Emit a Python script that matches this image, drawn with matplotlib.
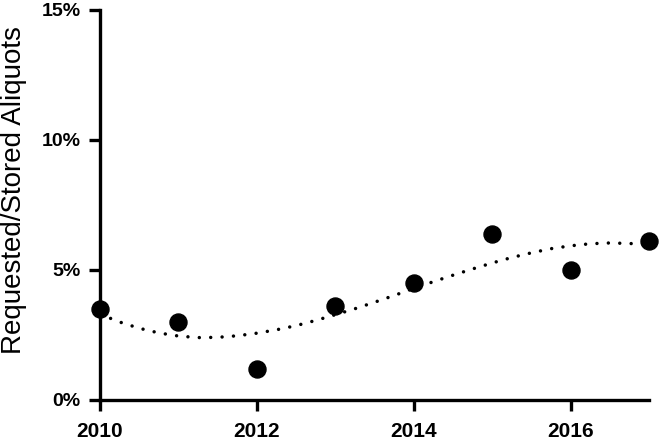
import matplotlib
matplotlib.use("Agg")
import matplotlib.pyplot as plt
from matplotlib.ticker import FuncFormatter

plt.rcParams['font.family'] = ['Liberation Sans', 'DejaVu Sans']
plt.rcParams['lines.scale_dashes'] = False

# measured points (percent)
years = [2010, 2011, 2012, 2013, 2014, 2015, 2016, 2017]
ratio = [3.5, 3.0, 1.2, 3.6, 4.5, 6.4, 5.0, 6.1]

# dotted trend line, every quarter year
trend_years = [2010.0, 2010.25, 2010.5, 2010.75, 2011.0, 2011.25, 2011.5, 2011.75,
               2012.0, 2012.25, 2012.5, 2012.75, 2013.0, 2013.25, 2013.5, 2013.75,
               2014.0, 2014.25, 2014.5, 2014.75, 2015.0, 2015.25, 2015.5, 2015.75,
               2016.0, 2016.25, 2016.5, 2016.75, 2017.0]
trend_vals = [3.30, 3.00, 2.76, 2.58, 2.46, 2.40, 2.41, 2.47,
              2.57, 2.70, 2.86, 3.06, 3.28, 3.51, 3.76, 4.02,
              4.29, 4.55, 4.80, 5.04, 5.27, 5.48, 5.66, 5.82,
              5.93, 6.01, 6.04, 6.02, 5.98]

xticks = [2010, 2012, 2014, 2016]
yticks = [0, 5, 10, 15]

W, H = 660, 443
fig = plt.figure(figsize=(W / 100, H / 100), dpi=100)
ax = fig.add_axes([100 / W, (H - 400) / H, 549 / W, 390 / H])

ax.plot(trend_years, trend_vals, color='black', lw=2.5,
        linestyle=(0, (0.01, 8.2)), dash_capstyle='round', zorder=2)
ax.scatter(years, ratio, s=150, color='black', zorder=3, clip_on=False)

ax.set_xlim(2010, 2017)
ax.set_ylim(0, 15)
ax.set_xticks(xticks)
ax.set_yticks(yticks)
ax.yaxis.set_major_formatter(FuncFormatter(lambda v, p: '%d%%' % v))

for s in ['top', 'right']:
    ax.spines[s].set_visible(False)
for s in ['left', 'bottom']:
    ax.spines[s].set_linewidth(2.4)
    ax.spines[s].set_capstyle('projecting')
ax.tick_params(width=2.4, length=8, direction='out')
ax.tick_params(axis='y', pad=6, labelsize=14)
ax.tick_params(axis='x', pad=8, labelsize=15)
for lab in ax.get_xticklabels() + ax.get_yticklabels():
    lab.set_fontweight('bold')

fig.text(14 / W, 1 - 190 / H, 'Requested/Stored Aliquots', rotation=90,
         ha='center', va='center', fontsize=20)

fig.savefig('out.png', dpi=100)
